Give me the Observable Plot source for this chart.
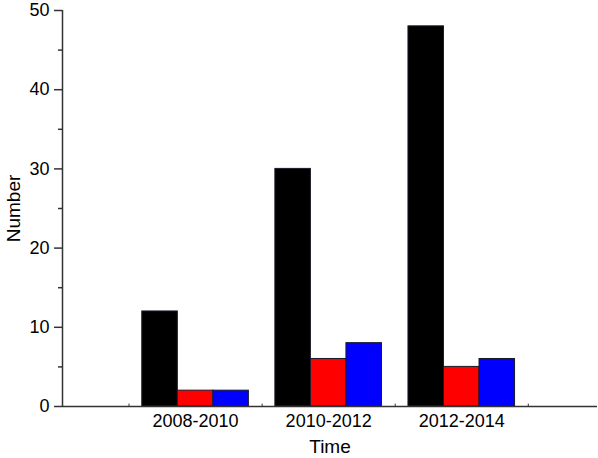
<!DOCTYPE html>
<html>
<head>
<meta charset="utf-8">
<script src="https://cdn.jsdelivr.net/npm/d3@7"></script>
<script src="https://cdn.jsdelivr.net/npm/@observablehq/plot@0.6"></script>
<style>
  html, body { margin: 0; padding: 0; background: #fff; }
  #chart { width: 598px; height: 458px; }
</style>
</head>
<body>
<div id="chart"></div>
<script>
const groups = ["2008-2010", "2010-2012", "2012-2014"];
const seriesNames = ["Black", "Red", "Blue"];
const seriesColors = ["#000000", "#ff0000", "#0000ff"];
const blackValues = [12, 30, 48];
const redValues = [2, 6, 5];
const blueValues = [2, 8, 6];
const yMajorTicks = [0, 10, 20, 30, 40, 50];
const yMinorTicks = [5, 15, 25, 35, 45];
const xMinorTicks = [0.5, 1.5, 2.5, 3.5];
const xLabel = "Time";
const yLabel = "Number";

const seriesValues = [blackValues, redValues, blueValues];
const barW = 0.267;
const data = [];
groups.forEach((g, i) => {
  seriesValues.forEach((vals, j) => {
    data.push({group: g, pos: i + 1, k: j, series: seriesNames[j], value: vals[i]});
  });
});

const font = "'Liberation Sans', Arial, Helvetica, sans-serif";

const chart = Plot.plot({
  width: 598,
  height: 458,
  marginLeft: 62,
  marginRight: 1,
  marginTop: 10,
  marginBottom: 52,
  style: {fontFamily: font, fontSize: "18px", color: "#000", background: "#fff"},
  x: {domain: [0, 4.02], axis: null},
  y: {domain: [0, 50], axis: null},
  color: {domain: seriesNames, range: seriesColors},
  marks: [
    Plot.rect(data, {
      x1: d => d.pos - 1.5 * barW + d.k * barW,
      x2: d => d.pos - 1.5 * barW + (d.k + 1) * barW,
      y1: 0,
      y2: "value",
      fill: "series",
      stroke: "#1a1a2a",
      strokeWidth: 1
    }),
    Plot.axisY({ticks: yMajorTicks, tickSize: 8, tickPadding: 5, label: null, stroke: "#333", strokeWidth: 1.5, fontSize: 18}),
    Plot.axisY({ticks: yMinorTicks, tickSize: 4, tickFormat: () => "", label: null, stroke: "#333", strokeWidth: 1.5}),
    Plot.axisX({ticks: [1, 2, 3], tickFormat: d => groups[d - 1], tickSize: 0, tickPadding: 8, label: null, fontSize: 18}),
    Plot.ruleX(xMinorTicks, {x: d => d, y1: 0, y2: 0.3, stroke: "#333", strokeWidth: 1}),
    Plot.ruleX([0], {stroke: "#333", strokeWidth: 1.5}),
    Plot.ruleY([0], {stroke: "#333", strokeWidth: 1.5}),
    Plot.text([yLabel], {frameAnchor: "left", textAnchor: "middle", rotate: -90, dx: -49, fontSize: 19, fill: "#000"}),
    Plot.text([xLabel], {frameAnchor: "bottom", dy: 46, fontSize: 19, fill: "#000"})
  ]
});

document.getElementById("chart").appendChild(chart);
</script>
</body>
</html>
